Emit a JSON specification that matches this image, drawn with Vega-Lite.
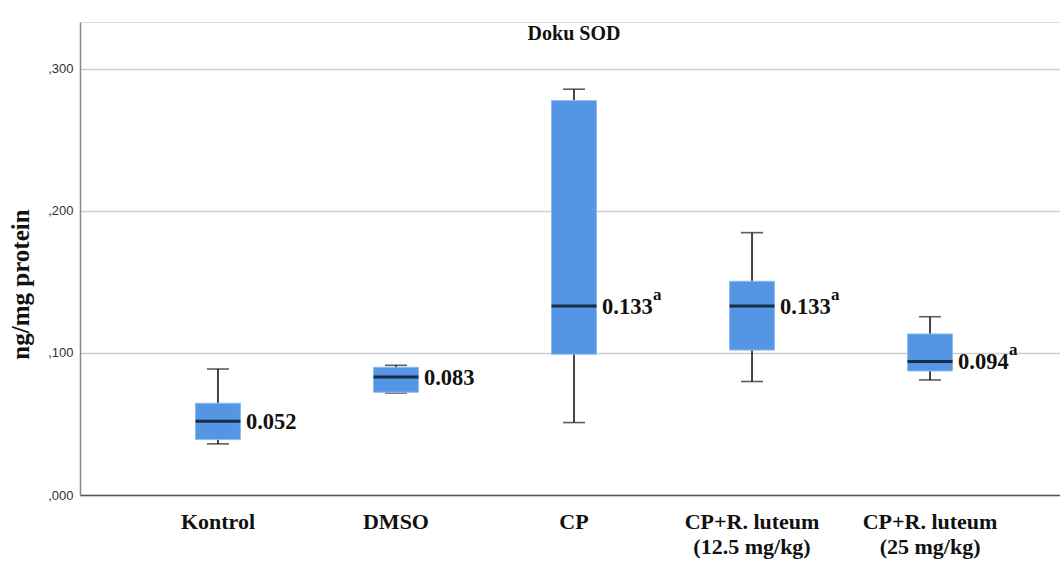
{
  "$schema": "https://vega.github.io/schema/vega-lite/v6.json",
  "width": 988,
  "height": 473,
  "autosize": "none",
  "padding": {"left": 80, "top": 22, "right": 0, "bottom": 68},
  "background": "white",
  "title": {
    "text": "Doku SOD",
    "font": "Liberation Serif",
    "fontWeight": "bold",
    "fontSize": 20,
    "color": "#111111",
    "anchor": "middle",
    "baseline": "top",
    "offset": -22
  },
  "data": {
    "values": [
      {"group": "Kontrol", "lower": 0.036, "q1": 0.039, "median": 0.052, "q3": 0.0646, "upper": 0.0887, "label": "0.052", "sup": ""},
      {"group": "DMSO", "lower": 0.0718, "q1": 0.0723, "median": 0.083, "q3": 0.0899, "upper": 0.0913, "label": "0.083", "sup": ""},
      {"group": "CP", "lower": 0.051, "q1": 0.0991, "median": 0.133, "q3": 0.2777, "upper": 0.2857, "label": "0.133", "sup": "a"},
      {"group": "CP+R. luteum (12.5 mg/kg)", "lower": 0.0799, "q1": 0.102, "median": 0.133, "q3": 0.1505, "upper": 0.1847, "label": "0.133", "sup": "a"},
      {"group": "CP+R. luteum (25 mg/kg)", "lower": 0.081, "q1": 0.0873, "median": 0.094, "q3": 0.1134, "upper": 0.1255, "label": "0.094", "sup": "a"}
    ]
  },
  "encoding": {
    "x": {
      "field": "group",
      "type": "nominal",
      "sort": null,
      "scale": {"paddingInner": 0, "paddingOuter": 0.275},
      "axis": {
        "title": null,
        "labelAngle": 0,
        "ticks": false,
        "domainColor": "#555555",
        "domainWidth": 1.5,
        "labelFont": "Liberation Serif",
        "labelFontWeight": "bold",
        "labelFontSize": 22,
        "labelColor": "#111111",
        "labelPadding": 16,
        "labelBaseline": "top",
        "labelLineHeight": 25,
        "labelExpr": "indexof(datum.value, ' (') > 0 ? [substring(datum.value, 0, indexof(datum.value, ' (')), substring(datum.value, indexof(datum.value, ' (') + 1)] : datum.value"
      }
    }
  },
  "layer": [
    {
      "mark": {"type": "rule", "color": "#1a1a1a", "strokeWidth": 1.6},
      "encoding": {
        "y": {
          "field": "lower",
          "type": "quantitative",
          "scale": {"domain": [0, 0.333], "nice": false, "zero": true},
          "axis": {
            "title": "ng/mg protein",
            "titleFont": "Liberation Serif",
            "titleFontWeight": "bold",
            "titleFontSize": 25,
            "titleColor": "#111111",
            "titleAngle": -90,
            "titleAlign": "center",
            "titleBaseline": "middle",
            "titleX": -60,
            "titleY": 262,
            "values": [0, 0.1, 0.2, 0.3],
            "labelExpr": "replace(format(datum.value, '.3f'), '0.', ',')",
            "labelFont": "Liberation Sans",
            "labelFontSize": 13,
            "labelColor": "#333333",
            "labelPadding": 7,
            "ticks": false,
            "domainColor": "#888888",
            "domainWidth": 1.5,
            "grid": true,
            "gridColor": "#cfcfcf",
            "gridWidth": 1.5
          }
        },
        "y2": {"field": "upper"}
      }
    },
    {
      "mark": {"type": "tick", "color": "#1a1a1a", "size": 22, "thickness": 1.6},
      "encoding": {"y": {"field": "upper", "type": "quantitative"}}
    },
    {
      "mark": {"type": "tick", "color": "#1a1a1a", "size": 22, "thickness": 1.6},
      "encoding": {"y": {"field": "lower", "type": "quantitative"}}
    },
    {
      "mark": {"type": "bar", "size": 45, "fill": "#5596e4", "stroke": "#8fbbef", "strokeWidth": 1},
      "encoding": {
        "y": {"field": "q1", "type": "quantitative"},
        "y2": {"field": "q3"}
      }
    },
    {
      "mark": {"type": "tick", "color": "#000000", "size": 45, "thickness": 3},
      "encoding": {"y": {"field": "median", "type": "quantitative"}}
    },
    {
      "mark": {"type": "text", "align": "left", "baseline": "middle", "dx": 28, "dy": 1, "font": "Liberation Serif", "fontWeight": "bold", "fontSize": 22.5, "color": "#111111"},
      "encoding": {
        "y": {"field": "median", "type": "quantitative"},
        "text": {"field": "label"}
      }
    },
    {
      "mark": {"type": "text", "align": "left", "baseline": "middle", "dx": 79, "dy": -11, "font": "Liberation Serif", "fontWeight": "bold", "fontSize": 17, "color": "#111111"},
      "encoding": {
        "y": {"field": "median", "type": "quantitative"},
        "text": {"field": "sup"}
      }
    }
  ]
}
